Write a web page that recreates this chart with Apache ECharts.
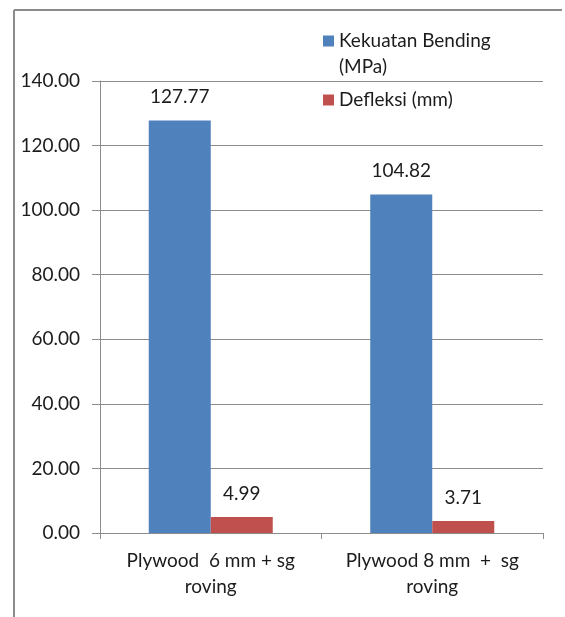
<!DOCTYPE html>
<html>
<head>
<meta charset="utf-8">
<script src="https://cdn.jsdelivr.net/npm/echarts@6/dist/echarts.min.js"></script>
<style>
  html, body { margin: 0; padding: 0; background: #ffffff; }
  #chart { width: 565px; height: 617px; }
</style>
</head>
<body>
<div id="chart"></div>
<script>
// Bending test results for plywood reinforced with sg roving
var categories = ['Plywood  6 mm + sg\nroving', 'Plywood 8 mm  +  sg\nroving'];
var seriesNames = ['Kekuatan Bending (MPa)', 'Defleksi (mm)'];
var kekuatanBending = [127.77, 104.82];
var defleksi = [4.99, 3.71];
var yTicks = { min: 0, max: 140, interval: 20 };

var FONT = 'Lato';
var FS = 19;
var TEXT = '#1c1c1c';
var LINE = '#8c8c8c';

var chart = echarts.init(document.getElementById('chart'), null, { renderer: 'canvas' });

var labelStyle = {
  show: true,
  position: 'top',
  distance: 14,
  fontFamily: FONT,
  fontSize: FS,
  color: TEXT,
  formatter: function (p) { return p.value.toFixed(2); }
};

// shared legend look; each entry gets its own block so the wrapped
// first entry keeps its swatch beside the first line of text
function legendBlock(name, top) {
  return {
    orient: 'vertical',
    left: 323,
    top: top,
    padding: 0,
    itemWidth: 11,
    itemHeight: 11,
    icon: 'rect',
    textStyle: { fontFamily: FONT, fontSize: FS, color: TEXT, lineHeight: 26 },
    data: [name],
    formatter: function (n) {
      // leading blank line centres the block on the first text line
      return n === seriesNames[0] ? '\nKekuatan Bending\n(MPa)' : n;
    }
  };
}

chart.setOption({
  animation: false,
  backgroundColor: '#ffffff',
  graphic: [
    { type: 'line', shape: { x1: 14, y1: 10, x2: 562, y2: 10 }, style: { stroke: LINE, lineWidth: 2 } },
    { type: 'line', shape: { x1: 14, y1: 10, x2: 14, y2: 617 }, style: { stroke: LINE, lineWidth: 2 } }
  ],
  legend: [
    legendBlock(seriesNames[0], 2),
    legendBlock(seriesNames[1], 87)
  ],
  grid: { left: 100, right: 22, top: 81, bottom: 84 },
  xAxis: {
    type: 'category',
    data: categories,
    axisLine: { lineStyle: { color: LINE, width: 1 } },
    axisTick: { show: true, length: 6, lineStyle: { color: LINE } },
    axisLabel: {
      interval: 0,
      hideOverlap: false,
      fontFamily: FONT, fontSize: 19, color: TEXT, lineHeight: 26, margin: 15
    }
  },
  yAxis: {
    type: 'value',
    min: yTicks.min,
    max: yTicks.max,
    interval: yTicks.interval,
    axisLine: { show: true, lineStyle: { color: LINE, width: 1 } },
    axisTick: { show: true, length: 8, lineStyle: { color: LINE } },
    splitLine: { lineStyle: { color: LINE, width: 1 } },
    axisLabel: {
      fontFamily: FONT, fontSize: FS, color: TEXT, margin: 20,
      formatter: function (v) { return v.toFixed(2); }
    }
  },
  series: [
    {
      name: seriesNames[0],
      type: 'bar',
      data: kekuatanBending,
      barWidth: 62,
      barGap: '0%',
      itemStyle: { color: '#4F81BD' },
      label: labelStyle
    },
    {
      name: seriesNames[1],
      type: 'bar',
      data: defleksi,
      barWidth: 62,
      barGap: '0%',
      itemStyle: { color: '#C0504D' },
      label: labelStyle
    }
  ]
});
</script>
</body>
</html>
